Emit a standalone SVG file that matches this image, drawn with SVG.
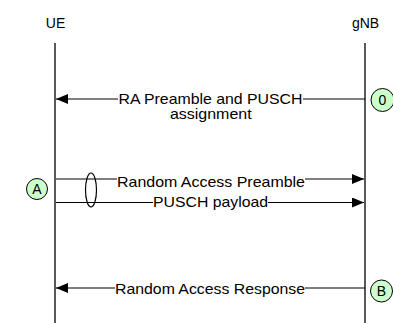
<svg xmlns="http://www.w3.org/2000/svg" width="393" height="323" viewBox="0 0 393 323">
<defs>
<style>
text{font-family:"Liberation Sans",Arial,sans-serif;fill:#000}
.lbl{font-size:14.5px;text-anchor:middle}
.hdr{font-size:14px;text-anchor:middle}
.life{stroke:#000;stroke-width:1.3;fill:none}
.msg{stroke:#000;stroke-width:1.2;fill:none}
.mark{fill:#ccffcc;stroke:#000;stroke-width:1}
.mtxt{font-size:14px;text-anchor:middle}
</style>
<marker id="ah" viewBox="0 0 12 10" refX="12" refY="5" markerWidth="12" markerHeight="10" markerUnits="userSpaceOnUse" orient="auto">
<path d="M0,0 L12,5 L0,10 Z" fill="#000"/>
</marker>
</defs>
<rect width="393" height="323" fill="#fff"/>
<g id="UE">
<text class="hdr" x="55.5" y="28">UE</text>
<line class="life" x1="55" y1="43" x2="55" y2="323"/>
</g>
<g id="gNB">
<text class="hdr" x="365.5" y="28">gNB</text>
<line class="life" x1="365" y1="43" x2="365" y2="323"/>
</g>
<g id="connectors">
<line class="msg" x1="118" y1="99" x2="56" y2="99" marker-end="url(#ah)"/>
<line class="msg" x1="365" y1="99" x2="303" y2="99"/>
<line class="msg" x1="56" y1="179" x2="117" y2="179"/>
<line class="msg" x1="305" y1="179" x2="364" y2="179" marker-end="url(#ah)"/>
<line class="msg" x1="56" y1="202.5" x2="153" y2="202.5"/>
<line class="msg" x1="268" y1="202.5" x2="364" y2="202.5" marker-end="url(#ah)"/>
<line class="msg" x1="115" y1="288" x2="56" y2="288" marker-end="url(#ah)"/>
<line class="msg" x1="305" y1="288" x2="365" y2="288"/>
<ellipse cx="91" cy="190" rx="5.5" ry="17" fill="none" stroke="#000" stroke-width="1.2"/>
</g>
<g id="msg1">
<text class="lbl" x="210.5" y="103.5" textLength="184" lengthAdjust="spacingAndGlyphs">RA Preamble and PUSCH</text>
<text class="lbl" x="210.8" y="119" textLength="81.7" lengthAdjust="spacingAndGlyphs">assignment</text>
</g>
<g id="msg2"><text class="lbl" x="211" y="186.5" textLength="188" lengthAdjust="spacingAndGlyphs">Random Access Preamble</text></g>
<g id="msg3"><text class="lbl" x="210.5" y="207" textLength="115" lengthAdjust="spacingAndGlyphs">PUSCH payload</text></g>
<g id="msg4"><text class="lbl" x="210" y="293.5" textLength="190" lengthAdjust="spacingAndGlyphs">Random Access Response</text></g>
<g id="mark0">
<circle class="mark" cx="382.5" cy="100" r="11.5"/>
<text class="mtxt" x="382.5" y="105">0</text>
</g>
<g id="markA">
<circle class="mark" cx="37" cy="189" r="10.5"/>
<text class="mtxt" x="37" y="194">A</text>
</g>
<g id="markB">
<circle class="mark" cx="381.5" cy="291" r="11"/>
<text class="mtxt" x="381.5" y="296">B</text>
</g>
</svg>
